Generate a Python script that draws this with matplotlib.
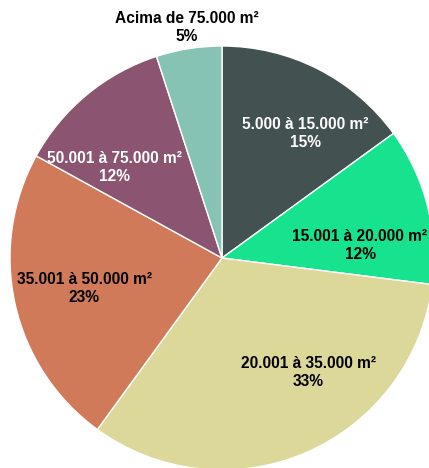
import matplotlib.pyplot as plt

plt.rcParams['font.family'] = ['Liberation Sans', 'DejaVu Sans']

labels = ['5.000 à 15.000 m²', '15.001 à 20.000 m²', '20.001 à 35.000 m²',
          '35.001 à 50.000 m²', '50.001 à 75.000 m²', 'Acima de 75.000 m²']
shares = [15, 12, 33, 23, 12, 5]
colors = ['#435250', '#17E38F', '#DCD89A', '#D17A5A', '#8B5470', '#86C3B5']
text_colors = ['white', 'black', 'black', 'black', 'white', 'black']
# label anchor positions (pie radius = 1)
label_pos = [(0.392, 0.587), (0.651, 0.057), (0.406, -0.538),
             (-0.649, -0.142), (-0.507, 0.429), (-0.167, 1.085)]

fig = plt.figure(figsize=(4.29, 4.68), dpi=100)
ax = fig.add_axes([0, 0, 1, 1])
ax.pie(shares, colors=colors, startangle=90, counterclock=False, radius=1,
       wedgeprops=dict(edgecolor='white', linewidth=1))
for lab, s, (x, y), c in zip(labels, shares, label_pos, text_colors):
    ax.text(x, y, f'{lab}\n{s}%', ha='center', va='center', color=c,
            fontsize=11.2, fontweight='bold', linespacing=1.25)

ax.set_aspect('auto')
ax.set_xlim(-222 / 212, 207 / 212)
ax.set_ylim(-210 / 212, 258 / 212)
ax.axis('off')
fig.savefig('out.png', dpi=100)
